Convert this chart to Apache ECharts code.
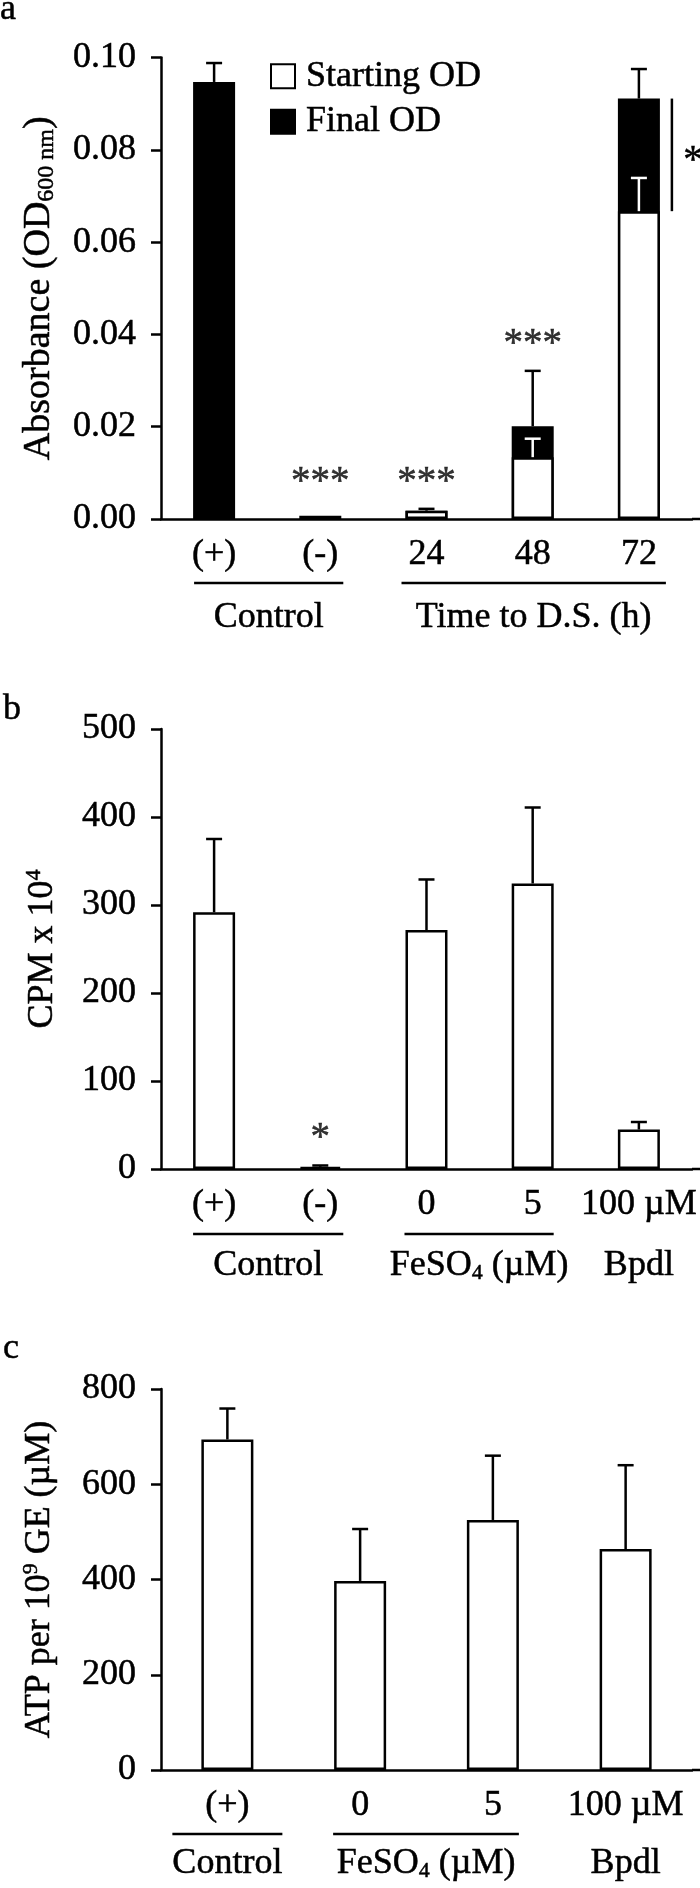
<!DOCTYPE html>
<html>
<head>
<meta charset="utf-8">
<script src="https://cdn.jsdelivr.net/npm/echarts@6/dist/echarts.min.js"></script>
<style>
html,body{margin:0;padding:0;background:#fff;}
#main{width:700px;height:1888px;}
</style>
</head>
<body>
<div id="main"></div>
<script>
// ---------- DATA ----------
// Panel a
const catsA = ['(+)', '(-)', '24', '48', '72'];
const startOD = [null, null, 0.0018, 0.0134, 0.0667];
const startSD = [null, null, 0, 0.0040, 0.0072];
const finalOD = [0.0947, 0.0007, 0.0018, 0.0201, 0.0911];
const finalSD = [0.0041, 0, 0.0004, 0.0120, 0.0064];
const sigA = ['', '***', '***', '***', ''];
const sigAY = [null, 0.0079, 0.0079, 0.0377, null];
const bracketA = [4, 0.0911, 0.0667, '*'];
const groupsA = [['Control', 0, 1], ['Time to D.S. (h)', 2, 4]];
const ticksA = [0, 0.10, 0.02];

// Panel b
const catsB = ['(+)', '(-)', '0', '5', '100 µM'];
const cpm = [291.7, 2.5, 271.6, 324.5, 44.8];
const cpmSD = [83.3, 1.5, 57.4, 86.3, 8.6];
const sigB = ['', '*', '', '', ''];
const sigBY = [null, 34, null, null, null];
const groupsB = [['Control', 0, 1], ['FeSO4 (µM)', 2, 3], ['Bpdl', 4, 4]];
const ticksB = [0, 500, 100];

// Panel c
const catsC = ['(+)', '0', '5', '100 µM'];
const atp = [694, 397, 525, 464];
const atpSD = [65, 109, 135, 176];
const groupsC = [['Control', 0, 0], ['FeSO4 (µM)', 1, 2], ['Bpdl', 3, 3]];
const ticksC = [0, 800, 200];

// ---------- STYLE / LAYOUT ----------
const FONT = 'Liberation Serif';
const LW = 2.5;
const TB = 0.5; // slight text stroke to mimic the heavier print
const gridsPos = [
  {left: 161, top: 57.5, width: 531, height: 461.5},
  {left: 161, top: 729, width: 531, height: 440},
  {left: 161, top: 1389, width: 531, height: 381}
];

function errRender(color) {
  return function (params, api) {
    const x = api.value(0), v = api.value(1), t = api.value(2);
    const p0 = api.coord([x, v]);
    const p1 = api.coord([x, t]);
    return {
      type: 'group',
      children: [
        {type: 'line', shape: {x1: p0[0], y1: p0[1], x2: p1[0], y2: p1[1]}, style: {stroke: color, lineWidth: LW}},
        {type: 'line', shape: {x1: p1[0] - 8, y1: p1[1], x2: p1[0] + 8, y2: p1[1]}, style: {stroke: color, lineWidth: LW}}
      ]
    };
  };
}
function errData(vals, sds) {
  const out = [];
  vals.forEach((v, i) => { if (v != null && sds[i] != null && sds[i] > 0) out.push([i, v, v + sds[i]]); });
  return out;
}
function sigData(labels, ys) {
  const out = [];
  labels.forEach((s, i) => { if (s && ys[i] != null) out.push({value: [i, ys[i]], label: {formatter: s}}); });
  return out;
}
const txt = {color: '#000', fontFamily: FONT, textBorderColor: '#000', textBorderWidth: TB};
function xAxisCfg(gi, cats) {
  return {
    type: 'category', gridIndex: gi, data: cats,
    axisLine: {show: true, lineStyle: {color: '#000', width: LW}},
    axisTick: {show: false},
    axisLabel: Object.assign({fontSize: 36, margin: 18, interval: 0, lineHeight: 36}, txt),
    splitLine: {show: false}
  };
}
function yAxisCfg(gi, t, name, rich, gap, fmt) {
  return {
    type: 'value', gridIndex: gi, min: t[0], max: t[1], interval: t[2],
    axisLine: {show: true, lineStyle: {color: '#000', width: LW}},
    axisTick: {show: true, length: 10, lineStyle: {color: '#000', width: LW}},
    axisLabel: Object.assign({fontSize: 36, margin: 25, formatter: fmt}, txt),
    splitLine: {show: false},
    name: name, nameLocation: 'middle', nameRotate: 90, nameGap: gap,
    nameTextStyle: Object.assign({rich: rich}, txt)
  };
}
function rs(o) { return Object.assign({fontFamily: FONT, color: '#000', textBorderColor: '#000', textBorderWidth: TB}, o); }
const whiteBar = {color: '#fff', borderColor: '#000', borderWidth: LW};
const blackBar = {color: '#000', borderColor: '#000', borderWidth: LW};
const sigLabel = Object.assign({show: true, position: 'inside', fontSize: 39}, txt);
const hidden = {color: 'rgba(0,0,0,0)'};

const option = {
  animation: false,
  backgroundColor: '#fff',
  textStyle: {fontFamily: FONT, color: '#000'},
  grid: gridsPos.map(g => Object.assign({containLabel: false}, g)),
  legend: {
    data: ['Starting OD', 'Final OD'],
    orient: 'vertical', left: 265, top: 53,
    itemWidth: 24, itemHeight: 24, itemGap: 9,
    icon: 'rect',
    textStyle: Object.assign({fontSize: 36, padding: [0, 0, 0, 6]}, txt),
    selectedMode: false
  },
  xAxis: [xAxisCfg(0, catsA), xAxisCfg(1, catsB), xAxisCfg(2, catsC)],
  yAxis: [
    yAxisCfg(0, ticksA, '{m|Absorbance (OD}{s|600 nm}{m|)}', {
      m: rs({fontSize: 38, lineHeight: 40}),
      s: rs({fontSize: 24, lineHeight: 24, verticalAlign: 'bottom'})
    }, 102, v => v.toFixed(2)),
    yAxisCfg(1, ticksB, '{m|CPM x 10}{p|4}', {
      m: rs({fontSize: 36, lineHeight: 40}),
      p: rs({fontSize: 22, lineHeight: 22, verticalAlign: 'top'})
    }, 98, v => String(v)),
    yAxisCfg(2, ticksC, '{m|ATP per 10}{p|9}{m| GE (µM)}', {
      m: rs({fontSize: 36, lineHeight: 40}),
      p: rs({fontSize: 22, lineHeight: 22, verticalAlign: 'top'})
    }, 101, v => String(v))
  ],
  series: [
    // Panel a
    {name: 'Final OD', type: 'bar', xAxisIndex: 0, yAxisIndex: 0, data: finalOD, barWidth: 42, itemStyle: blackBar},
    {name: 'Starting OD', type: 'bar', xAxisIndex: 0, yAxisIndex: 0, data: startOD, barWidth: 42, barGap: '-100%', itemStyle: whiteBar},
    {name: 'startErr', type: 'custom', xAxisIndex: 0, yAxisIndex: 0, renderItem: errRender('#fff'), data: errData(startOD, startSD), z: 3},
    {name: 'finalErr', type: 'custom', xAxisIndex: 0, yAxisIndex: 0, renderItem: errRender('#000'), data: errData(finalOD, finalSD), z: 3},
    {name: 'sigA', type: 'scatter', xAxisIndex: 0, yAxisIndex: 0, symbolSize: 1, itemStyle: hidden, label: sigLabel, data: sigData(sigA, sigAY), z: 4},
    {name: 'bracketA', type: 'custom', xAxisIndex: 0, yAxisIndex: 0, z: 4,
      data: [bracketA.slice(0, 3)],
      renderItem: function (params, api) {
        const x = api.value(0);
        const p0 = api.coord([x, api.value(1)]);
        const p1 = api.coord([x, api.value(2)]);
        const bx = p0[0] + 33;
        return {type: 'group', children: [
          {type: 'line', shape: {x1: bx, y1: p0[1], x2: bx, y2: p1[1]}, style: {stroke: '#000', lineWidth: LW}},
          {type: 'text', x: bx + 21, y: (p0[1] + p1[1]) / 2 + 7,
            style: {text: bracketA[3], fill: '#000', stroke: '#000', lineWidth: TB, font: '39px "' + FONT + '"', align: 'center', verticalAlign: 'middle'}}
        ]};
      }
    },
    // Panel b
    {name: 'CPM', type: 'bar', xAxisIndex: 1, yAxisIndex: 1, data: cpm, barWidth: 42, itemStyle: whiteBar},
    {name: 'cpmErr', type: 'custom', xAxisIndex: 1, yAxisIndex: 1, renderItem: errRender('#000'), data: errData(cpm, cpmSD), z: 3},
    {name: 'sigB', type: 'scatter', xAxisIndex: 1, yAxisIndex: 1, symbolSize: 1, itemStyle: hidden, label: sigLabel, data: sigData(sigB, sigBY), z: 4},
    // Panel c
    {name: 'ATP', type: 'bar', xAxisIndex: 2, yAxisIndex: 2, data: atp, barWidth: 52, itemStyle: whiteBar},
    {name: 'atpErr', type: 'custom', xAxisIndex: 2, yAxisIndex: 2, renderItem: errRender('#000'), data: errData(atp, atpSD), z: 3}
  ]
};

const chart = echarts.init(document.getElementById('main'), null, {renderer: 'canvas'});
chart.setOption(option);

// ---------- group annotations (positions from the category axes) ----------
const richSub = {
  a: {fontSize: 36, fontFamily: FONT, fill: '#000', stroke: '#000', lineWidth: TB, lineHeight: 36},
  s: {fontSize: 22, fontFamily: FONT, fill: '#000', stroke: '#000', lineWidth: TB, lineHeight: 22, verticalAlign: 'bottom'}
};
function richText(t) {
  if (t.indexOf('FeSO4') === 0) return '{a|FeSO}{s|4}{a|' + t.slice(5) + '}';
  return '{a|' + t + '}';
}
const layoutGroups = [
  {axis: 0, groups: groupsA, lineY: 583, textY: 618, pads: [[20, 23], [25, 27]]},
  {axis: 1, groups: groupsB, lineY: 1234, textY: 1266, pads: [[21, 23], [22, 21], null]},
  {axis: 2, groups: groupsC, lineY: 1834, textY: 1864, pads: [[55, 55], [27, 26], null]}
];
const gfx = [];
layoutGroups.forEach(L => {
  L.groups.forEach((g, k) => {
    const x0 = chart.convertToPixel({xAxisIndex: L.axis}, g[1]);
    const x1 = chart.convertToPixel({xAxisIndex: L.axis}, g[2]);
    const pad = L.pads[k];
    let cx = (x0 + x1) / 2;
    if (pad) {
      const a = x0 - pad[0], b = x1 + pad[1];
      cx = (a + b) / 2;
      gfx.push({type: 'line', shape: {x1: a, y1: L.lineY, x2: b, y2: L.lineY}, style: {stroke: '#000', lineWidth: LW}});
    }
    gfx.push({type: 'text', x: cx, y: L.textY,
      style: {text: richText(g[0]), rich: richSub, align: 'center', verticalAlign: 'middle', fill: '#000', font: '36px "' + FONT + '"'}});
  });
});
// panel letters
[['a', 8, 10], ['b', 12, 710], ['c', 11, 1349]].forEach(p => {
  gfx.push({type: 'text', x: p[1], y: p[2], style: {text: p[0], fill: '#000', stroke: '#000', lineWidth: TB, font: '36px "' + FONT + '"', align: 'center', verticalAlign: 'middle'}});
});
// x-axis lines reach the right edge
[0, 1, 2].forEach(i => {
  const g = gridsPos[i];
  const y = g.top + g.height;
  gfx.push({type: 'line', shape: {x1: g.left + g.width, y1: y, x2: 700, y2: y}, style: {stroke: '#000', lineWidth: LW}});
});
chart.setOption({graphic: gfx});
</script>
</body>
</html>
